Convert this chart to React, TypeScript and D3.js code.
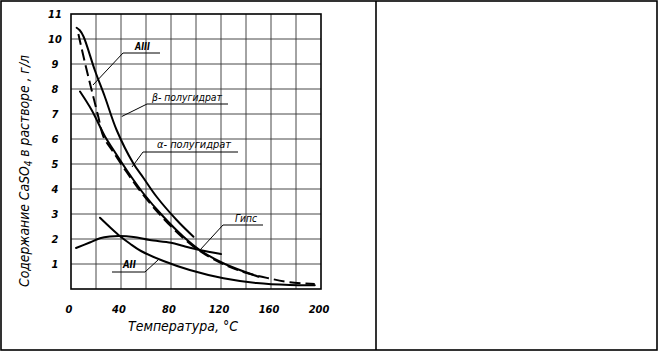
import React from 'react'
import * as d3 from 'd3'

// temperature, °C  /  CaSO4 content, g/l
const tempTicks = [0, 40, 80, 120, 160, 200]
const valueTicks = [1, 2, 3, 4, 5, 6, 7, 8, 9, 10, 11]
const gridTemps = [20, 40, 60, 80, 100, 120, 140, 160, 180]

const betaT = [4.5, 7, 10, 19, 27, 36.5, 49.8, 58, 68.5, 84.5, 98]
const betaV = [10.45, 10.35, 10.1, 8.76, 7.7, 6.36, 5.03, 4.44, 3.69, 2.76, 2.09]

const alphaT = [7.2, 16.5, 27.2, 34, 44.5, 57.8, 73.8, 89.8, 103, 121.8, 150]
const alphaV = [7.9, 7.16, 6.1, 5.56, 4.76, 3.83, 2.9, 2.1, 1.56, 1.03, 0.49]

const a3T = [5.9, 11.2, 16.5, 21.8, 25.9, 34, 44.5, 57.8, 73.8, 89.8, 103, 122, 140, 158, 175, 195]
const a3V = [10.2, 9.04, 7.96, 6.9, 6.1, 5.47, 4.68, 3.76, 2.83, 2.04, 1.52, 0.99, 0.65, 0.43, 0.27, 0.2]

const gypsT = [4, 15, 23.2, 31, 39, 50, 63, 80, 90, 103, 120]
const gypsV = [1.64, 1.86, 2.03, 2.1, 2.12, 2.08, 1.96, 1.85, 1.72, 1.56, 1.4]

const a2T = [23.2, 31, 39, 47, 56, 74, 95, 122, 148.5, 175, 195]
const a2V = [2.85, 2.48, 2.12, 1.82, 1.52, 1.12, 0.76, 0.43, 0.24, 0.16, 0.15]

// labels with leaders: text start, underline span, leader end (data units)
const labels = [
  { text: 'АIII', tx: 51.2, ty: 9.56, u0: 41.6, u1: 71.2, uy: 9.44, from: 'left', px: 17.6, py: 8.16, len: 15 },
  { text: 'β- полугидрат', tx: 64.8, ty: 7.52, u0: 60.8, u1: 125.6, uy: 7.4, from: 'left', px: 40.6, py: 6.9, len: 70 },
  { text: 'α- полугидрат', tx: 68.8, ty: 5.64, u0: 57.6, u1: 133.6, uy: 5.48, from: 'left', px: 48.8, py: 4.88, len: 74 },
  { text: 'Гипс', tx: 131.2, ty: 2.68, u0: 121.6, u1: 153.6, uy: 2.56, from: 'left', px: 103.2, py: 1.56, len: 22 },
  { text: 'АII', tx: 41.6, ty: 0.84, u0: 32.8, u1: 59.2, uy: 0.68, from: 'right', px: 69.6, py: 1.16, len: 13 },
]

const font = "'Liberation Sans Narrow', 'DejaVu Sans Condensed', 'Liberation Sans', sans-serif"

export default function App() {
  const x = d3.scaleLinear().domain([0, 200]).range([71, 321])
  const y = d3.scaleLinear().domain([0, 11]).range([289, 14])

  const line = d3.line<[number, number]>()
    .x(d => x(d[0]))
    .y(d => y(d[1]))
    .curve(d3.curveCatmullRom.alpha(0.5))

  const path = (ts: number[], vs: number[]) => line(ts.map((t, i) => [t, vs[i]]) as [number, number][]) || ''

  return (
    <svg width={658} height={351} style={{ position: 'absolute', left: 0, top: 0, background: '#fff' }}>
      {/* sheet frame */}
      <rect x={1} y={1} width={656} height={349} fill="none" stroke="#000" strokeWidth={1.6} />
      <line x1={376} y1={1} x2={376} y2={350} stroke="#000" strokeWidth={1.6} />

      {/* grid */}
      <g stroke="#333" strokeWidth={0.9}>
        {gridTemps.map(t => (
          <line key={'vx' + t} x1={x(t)} x2={x(t)} y1={y(11)} y2={y(0)} />
        ))}
        {valueTicks.slice(0, -1).map(v => (
          <line key={'hy' + v} x1={x(0)} x2={x(200)} y1={y(v)} y2={y(v)} />
        ))}
      </g>
      <rect x={x(0)} y={y(11)} width={x(200) - x(0)} height={y(0) - y(11)} fill="none" stroke="#000" strokeWidth={1.6} />

      {/* tick labels */}
      <g fontFamily={font} fontStyle="italic" fontWeight="bold" fontSize={11} fill="#000">
        {valueTicks.map(v => (
          <text key={'yl' + v} x={55} y={y(v) + 4} textAnchor="middle">{v}</text>
        ))}
        {tempTicks.map(t => (
          <text key={'xl' + t} x={x(t) - 2} y={313} textAnchor="middle">{t}</text>
        ))}
      </g>

      {/* axis titles */}
      <text x={128} y={331} fontFamily={font} fontStyle="italic" fontSize={14} textLength={110} lengthAdjust="spacingAndGlyphs">
        Температура, °С
      </text>
      <text transform="translate(29,287) rotate(-90)" fontFamily={font} fontStyle="italic" fontSize={14} textLength={232} lengthAdjust="spacingAndGlyphs">
        Содержание  CaSO<tspan fontSize={10} dy={3}>4</tspan><tspan dy={-3}>  в  растворе ,  г/л</tspan>
      </text>

      {/* curves */}
      <g fill="none" stroke="#000" strokeWidth={2} strokeLinecap="round">
        <path d={path(betaT, betaV)} />
        <path d={path(alphaT, alphaV)} />
        <path d={path(gypsT, gypsV)} />
        <path d={path(a2T, a2V)} />
        <path d={path(a3T, a3V)} strokeDasharray="11 5" strokeLinecap="butt" />
      </g>

      {/* curve labels */}
      <g fontFamily={font} fontStyle="italic" fontSize={11} fill="#000">
        {labels.map(l => {
          const sx = l.from === 'left' ? x(l.u0) : x(l.u1)
          return (
            <g key={l.text}>
              <text x={x(l.tx)} y={y(l.ty)} fontWeight={l.text.startsWith('А') ? 'bold' : 'normal'} textLength={l.len} lengthAdjust="spacingAndGlyphs">{l.text}</text>
              <line x1={x(l.u0)} x2={x(l.u1)} y1={y(l.uy)} y2={y(l.uy)} stroke="#000" strokeWidth={1} />
              <line x1={sx} y1={y(l.uy)} x2={x(l.px)} y2={y(l.py)} stroke="#000" strokeWidth={1} />
            </g>
          )
        })}
      </g>
    </svg>
  )
}
